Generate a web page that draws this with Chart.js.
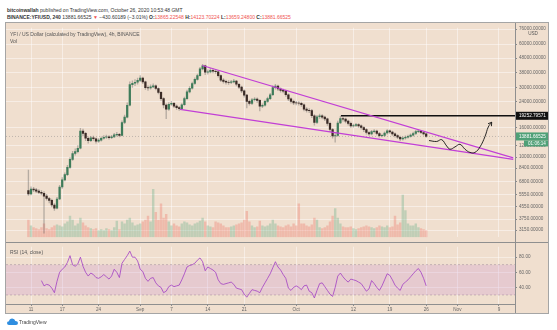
<!DOCTYPE html>
<html>
<head>
<meta charset="utf-8">
<script src="https://cdn.jsdelivr.net/npm/chart.js@4.4.0/dist/chart.umd.min.js"></script>
<style>
  html, body { margin: 0; padding: 0; background: #fff; width: 557px; height: 330px; overflow: hidden;
               font-family: "Liberation Sans", Arial, sans-serif; }
  canvas { position: absolute; background: #f0dfcf; }
  #main { left: 6px; top: 23px; }
  #rsi  { left: 6px; top: 242px; }
  .txt { position: absolute; white-space: nowrap; font-size: 5px; color: #333; line-height: 6px; }
  .r { color: #ef5350; }
  .line { position: absolute; background: #8f8f8f; }
  #frame { position: absolute; left: 5px; top: 22px; width: 544px; height: 292px; box-sizing: border-box;
           border: 1px solid #a5a5a5; }
</style>
</head>
<body>
<div class="txt" style="left:7px;top:7px"><b>bitcoinwallah</b> published on TradingView.com, October 26, 2020 10:53:48 GMT</div>
<div class="txt" style="left:7px;top:14px"><b>BINANCE:YFIUSD, 240</b> 13881.66525 <span class="r">▼</span> −430.60189 (−3.01%) <b>O:</b><span class="r">13865.22548</span> <b>H:</b><span class="r">14123.70224</span> <b>L:</b><span class="r">13659.24800</span> <b>C:</b><span class="r">13881.66525</span></div>

<canvas id="main" width="542" height="219"></canvas>
<canvas id="rsi" width="542" height="71"></canvas>

<div id="frame"></div>
<div class="line" style="left:6px;top:242px;width:542px;height:1px"></div>
<div class="line" style="left:515px;top:23px;width:1px;height:290px"></div>

<svg style="position:absolute;left:7px;top:318px" width="11" height="7" viewBox="0 0 11 7">
  <path d="M2 7 Q0 7 0 5 Q0 3.2 2 3.2 Q2.5 0.5 5.2 0.5 Q7.8 0.5 8.3 3 Q11 3 11 5 Q11 7 9 7 Z" fill="#2e8ee0"/>
</svg>
<div class="txt" style="left:19px;top:319px;color:#444">TradingView</div>

<script>
'use strict';

/* ── Time axis: 12h candles, first one Aug 10 12:00 (days counted from Aug 11) ── */
const firstDay = -0.5;
const stepDays = 0.5;
const xMin = -4.81, xMax = 93.08;

const tickDays   = [0, 6, 13, 21, 27, 34, 41, 51, 62, 69, 76, 82, 90];
const tickLabels = ['11', '17', '24', 'Sep', '7', '14', '21', 'Oct', '12', '19', '26', 'Nov', '9'];

/* ── Price (USD) ── */
const firstOpen = 5900;
const closes = [
  5590, 6030, 5955, 5835, 5730, 5645, 5395, 5195, 5040, 4685,
  4450, 5155, 6230, 6980, 7585, 8500, 9665, 10590, 10920, 11515,
  15110, 14560, 13495, 12990, 13595, 13390, 12900, 13090, 13495, 13700,
  13800, 13595, 13800, 14230, 14340, 14120, 17315, 18830, 22760, 31510,
  32240, 32730, 33735, 35045, 32980, 30110, 29885, 30475, 30985, 29660,
  27930, 25300, 22830, 21420, 23110, 23460, 22420, 21915, 21590, 22940,
  25300, 28140, 29795, 32095, 34255, 36395, 40470, 42540, 38380, 38600,
  39555, 39000, 38670, 36395, 33875, 33230, 32730, 32600, 32980, 33330,
  31750, 30340, 28570, 26680, 24180, 23460, 24810, 25070, 24550, 22420,
  22760, 24180, 25300, 26880, 30110, 30800, 29430, 28790, 28445, 26880,
  25185, 24180, 23640, 23570, 23500, 22940, 21420, 21000, 20900, 19260,
  17315, 18970, 19260, 18830, 18315, 17060, 15500, 14015, 14100, 17185,
  18400, 18260, 17715, 17060, 16425, 16500, 16725, 16425, 15985, 15455,
  14770, 14450, 14995, 15110, 14555, 14080, 14120, 14665, 15180, 14885,
  14450, 14060, 13700, 13330, 13540, 13700, 13910, 14170, 14555, 14995,
  15110, 14770, 14450, 13881.67
];
const highs = [
  8160, 6250, 6200, 6100, 5980, 5900, 5800, 5550, 5300, 5150,
  4800, 5300, 6400, 7250, 7800, 8800, 9950, 10950, 11400, 12000,
  15800, 15600, 14800, 13800, 13900, 13950, 13600, 13400, 13800, 14050,
  14200, 14100, 14150, 14600, 14800, 14600, 17800, 19500, 23600, 33000,
  33500, 34200, 35000, 36400, 35500, 33300, 31000, 31400, 32000, 31500,
  30000, 28300, 25700, 23300, 23700, 24200, 23800, 22900, 22400, 23400,
  25900, 28900, 30600, 32900, 35100, 37300, 41500, 43500, 43000, 39800,
  40800, 40500, 39900, 39200, 36900, 34700, 33900, 33600, 33800, 34300,
  33800, 32200, 30800, 29000, 27100, 24700, 25400, 25700, 25600, 24900,
  23300, 24700, 25900, 27500, 30900, 31700, 31300, 30000, 29400, 28900,
  27300, 25600, 24700, 24200, 24100, 23900, 23300, 21900, 21600, 21300,
  19600, 19400, 19800, 19600, 19200, 18600, 17400, 15800, 14500, 17700,
  19100, 18900, 18600, 18000, 17400, 16900, 17100, 17000, 16700, 16200,
  15700, 15000, 15300, 15500, 15350, 14800, 14400, 14950, 15500, 15400,
  15100, 14700, 14300, 13950, 13800, 14000, 14200, 14450, 14850, 15300,
  15450, 15300, 14900, 14500
];
const lows = [
  5450, 5500, 5800, 5700, 5600, 5500, 3000, 5050, 4850, 4550,
  4300, 4400, 5100, 6100, 6850, 7450, 8350, 9500, 10300, 10700,
  11400, 14000, 13000, 12500, 12800, 13050, 12500, 12650, 12900, 13300,
  13450, 13300, 13400, 13650, 13950, 13800, 14000, 17000, 18600, 22500,
  30200, 31000, 31800, 33000, 32000, 29200, 28800, 29300, 30000, 29000,
  27200, 24600, 21800, 18400, 21000, 22700, 21900, 21300, 21000, 21300,
  22700, 25000, 27700, 29400, 31700, 33800, 36000, 39800, 37000, 37200,
  38000, 38000, 37600, 35500, 33000, 32300, 31800, 31700, 32000, 32400,
  30900, 29600, 27800, 25900, 21800, 22800, 23000, 24300, 23800, 20800,
  21900, 22400, 23800, 24900, 26500, 29400, 28700, 28000, 27700, 26200,
  24500, 23500, 23000, 22900, 22800, 22300, 20800, 20400, 20200, 18700,
  16600, 17000, 18500, 18300, 17800, 16500, 15000, 13500, 12700, 13900,
  17000, 17700, 17200, 16600, 16000, 16050, 16200, 16000, 15600, 15000,
  14400, 14100, 14200, 14700, 14200, 13750, 13800, 13900, 14400, 14550,
  14100, 13750, 13400, 13000, 13100, 13300, 13500, 13700, 13950, 14300,
  14750, 14500, 14150, 13660
];
const volumes = [
  2160, 1440, 1200, 1080, 960, 1200, 1680, 1080, 960, 1200,
  1440, 1560, 1440, 1320, 1680, 1920, 2640, 2160, 1440, 1680,
  2400, 1800, 1440, 1200, 1080, 960, 1080, 840, 960, 840,
  1080, 960, 840, 1200, 2040, 960, 1920, 1680, 2160, 2400,
  1800, 1440, 1560, 1680, 1920, 2160, 2640, 1920, 6000, 3120,
  2160, 4200, 2400, 2880, 1920, 1440, 1680, 1440, 1320, 1680,
  1920, 1800, 1560, 1440, 1680, 1800, 2040, 2400, 1920, 1440,
  1320, 1200, 1920, 1800, 1680, 1440, 1200, 1200, 1320, 1440,
  1560, 1680, 1800, 2160, 3240, 1920, 1440, 1200, 1320, 2040,
  1440, 1320, 1440, 1680, 2160, 1680, 1440, 1320, 1200, 1440,
  1560, 1320, 1680, 1440, 4200, 1680, 1680, 1440, 1320, 1560,
  2400, 2160, 1200, 1080, 1200, 1440, 1920, 2640, 3600, 2400,
  1680, 1320, 1200, 1200, 1320, 1080, 960, 1080, 1200, 1320,
  1440, 1320, 1200, 1080, 1200, 1440, 1320, 1200, 1440, 1200,
  1320, 2640, 1560, 1800, 5280, 3360, 1680, 1440, 1440, 1680,
  1200, 1080, 960, 840
];
const volMax = 26280;

const priceTicks = [76000, 60000, 48000, 38000, 30000, 24000, 16000, 12000, 10000, 8400, 6800, 5550, 4550, 3750, 3150];
const priceMin = 2813, priceMax = 77625;
const lastPrice = 13881.66525;
const countdown = '01:06:14';

/* ── Drawings ── */
const upperLineDays = [32.94, 92.75], upperLinePrices = [42700, 9890];
const lowerLineDays = [28.65, 92.75], lowerLinePrices = [21340, 9660];
const resistance = 19252.79571, resistanceFrom = 59.6;
const projDays   = [76.54, 78.02, 78.98, 79.94, 80.58, 81.54, 82.5, 83.46, 84.42, 85.38, 86.35, 87.31, 87.94, 88.6];
const projPrices = [13010, 12820, 13190, 11930, 11340, 11760, 12250, 11340, 10780, 10780, 11760, 13860, 16120, 17390];

/* ── RSI (14, close), starts at candle 5 ── */
const rsiStart = 5;
const rsi = [
  49, 42, 44, 43, 39, 33, 48, 60, 64, 67,
  73, 82, 70, 68, 71, 80, 68, 60, 55, 59,
  57, 53, 52, 54, 57, 54, 51, 55, 64, 60,
  53, 72, 77, 82, 88, 80, 80, 75, 64, 61,
  52, 48, 52, 53, 46, 42, 40, 33, 35, 41,
  43, 41, 42, 43, 50, 58, 67, 69, 70, 72,
  76, 79, 74, 62, 67, 65, 63, 60, 50, 45,
  44, 45, 46, 47, 44, 39, 38, 37, 31, 27,
  32, 37, 36, 35, 33, 40, 46, 52, 58, 66,
  74, 67, 63, 57, 52, 39, 36, 40, 42, 40,
  37, 42, 43, 35, 33, 26, 36, 45, 46, 41,
  36, 31, 28, 40, 55, 59, 54, 50, 47, 51,
  50, 49, 47, 45, 40, 35, 38, 49, 45, 40,
  36, 42, 50, 58, 56, 50, 43, 39, 36, 44,
  47, 50, 54, 58, 62, 65, 60, 52, 42
];
const rsiTicks = [80, 60, 40];
const rsiBand = [70, 30];
const rsiMin = 18, rsiMax = 93.8;

/* ── Shared styling ── */
const FONT = '"Liberation Sans", Arial, sans-serif';
const GRID = 'rgba(255,255,255,0.45)';
const TEXT = '#666';
Chart.defaults.font.family = FONT;
Chart.defaults.font.size = 4.6;
Chart.defaults.color = TEXT;

const candleDays = closes.map((_, i) => firstDay + stepDays * i);
const opens = closes.map((c, i) => (i === 0 ? firstOpen : closes[i - 1]));
const isUp = closes.map((c, i) => c >= opens[i]);
const pts = (xs, ys) => xs.map((x, i) => ({ x, y: ys[i] }));

function rightAxisFit(s) { s.width = 33; }

/* ── Price panel ── */
const mainOverlay = {
  id: 'mainOverlay',
  afterDraw(chart) {
    const { ctx, chartArea: a, scales: { x, y } } = chart;
    ctx.save();

    // arrow head of the projection path
    const n = projDays.length;
    const x1 = x.getPixelForValue(projDays[n - 2]), y1 = y.getPixelForValue(projPrices[n - 2]);
    const x2 = x.getPixelForValue(projDays[n - 1]), y2 = y.getPixelForValue(projPrices[n - 1]);
    const ang = Math.atan2(y2 - y1, x2 - x1);
    ctx.strokeStyle = '#111';
    ctx.lineWidth = 0.9;
    ctx.beginPath();
    ctx.moveTo(x2 - 4 * Math.cos(ang - 0.55), y2 - 4 * Math.sin(ang - 0.55));
    ctx.lineTo(x2, y2);
    ctx.lineTo(x2 - 4 * Math.cos(ang + 0.55), y2 - 4 * Math.sin(ang + 0.55));
    ctx.stroke();

    ctx.font = '5px ' + FONT;
    ctx.textBaseline = 'middle';
    ctx.fillStyle = '#555';
    ctx.fillText('YFI / US Dollar (calculated by TradingView), 4h, BINANCE', a.left + 4, a.top + 7);
    ctx.fillText('Vol', a.left + 4, a.top + 14);

    ctx.font = '4.6px ' + FONT;
    ctx.textAlign = 'center';
    ctx.fillText('USD', a.right + 18, y.getPixelForValue(priceTicks[0]) + 5);

    // resistance label
    const ry = y.getPixelForValue(resistance);
    ctx.fillStyle = '#111';
    ctx.fillRect(a.right + 1, ry - 4, 32, 8);
    ctx.fillStyle = '#fff';
    ctx.textAlign = 'left';
    ctx.fillText(resistance.toFixed(5), a.right + 4, ry + 0.3);

    // last price + countdown
    const py = y.getPixelForValue(lastPrice);
    ctx.fillStyle = '#4fa077';
    ctx.fillRect(a.right + 1, py - 4, 32, 8);
    ctx.fillRect(a.right + 9, py + 4, 24, 6);
    ctx.fillStyle = '#fff';
    ctx.fillText(lastPrice.toFixed(5), a.right + 4, py + 0.3);
    ctx.fillText(countdown, a.right + 13, py + 7.3);
    ctx.restore();
  }
};

new Chart(document.getElementById('main'), {
  type: 'bar',
  data: {
    datasets: [
      {
        type: 'line', order: 0, yAxisID: 'y',
        data: pts(projDays, projPrices),
        borderColor: '#111', borderWidth: 0.9, tension: 0.4, pointRadius: 0
      },
      {
        type: 'line', order: 1, yAxisID: 'y',
        data: pts(upperLineDays, upperLinePrices),
        borderColor: '#c23fd6', borderWidth: 1.2, pointRadius: 0
      },
      {
        type: 'line', order: 1, yAxisID: 'y',
        data: pts(lowerLineDays, lowerLinePrices),
        borderColor: '#c23fd6', borderWidth: 1.2, pointRadius: 0
      },
      {
        type: 'line', order: 2, yAxisID: 'y',
        data: [{ x: resistanceFrom, y: resistance }, { x: xMax, y: resistance }],
        borderColor: '#111', borderWidth: 1.4, pointRadius: 0
      },
      {
        type: 'line', order: 7, yAxisID: 'y',
        data: [{ x: xMin, y: lastPrice }, { x: xMax, y: lastPrice }],
        borderColor: 'rgba(120,120,120,0.6)', borderWidth: 0.7, borderDash: [1, 2], pointRadius: 0
      },
      {
        order: 8, yAxisID: 'y', grouped: false,
        data: candleDays.map((d, i) => ({ x: d, y: [opens[i], closes[i]] })),
        backgroundColor: isUp.map(u => (u ? '#3f7c5a' : '#3b2b26')),
        barThickness: 1.6
      },
      {
        order: 9, yAxisID: 'y', grouped: false,
        data: candleDays.map((d, i) => ({ x: d, y: [lows[i], highs[i]] })),
        backgroundColor: 'rgba(95,95,95,0.4)',
        barThickness: 0.7
      },
      {
        order: 10, yAxisID: 'yv', grouped: false,
        data: candleDays.map((d, i) => ({ x: d, y: volumes[i] })),
        backgroundColor: isUp.map(u => (u ? 'rgba(90,170,130,0.32)' : 'rgba(235,110,95,0.32)')),
        barThickness: 1.8
      }
    ]
  },
  options: {
    responsive: false, animation: false, devicePixelRatio: 1, events: [],
    layout: { padding: 0 },
    plugins: { legend: { display: false }, tooltip: { enabled: false } },
    scales: {
      x: {
        type: 'linear', min: xMin, max: xMax, offset: false,
        grid: { color: GRID, drawTicks: false, offset: false },
        border: { display: false },
        ticks: { display: false },
        afterBuildTicks: s => { s.ticks = tickDays.map(v => ({ value: v })); },
        afterFit: s => { s.height = 0; }
      },
      y: {
        type: 'logarithmic', position: 'right', min: priceMin, max: priceMax,
        grid: { color: GRID, tickLength: 2, tickColor: '#8a8a8a' },
        border: { display: false },
        ticks: { autoSkip: false, padding: 2, color: TEXT, callback: v => Number(v).toFixed(5) },
        afterBuildTicks: s => { s.ticks = priceTicks.map(v => ({ value: v })); },
        afterFit: rightAxisFit
      },
      yv: {
        type: 'linear', display: false, min: 0, max: volMax
      }
    }
  },
  plugins: [mainOverlay]
});

/* ── RSI panel ── */
const rsiOverlay = {
  id: 'rsiOverlay',
  afterDraw(chart) {
    const { ctx, chartArea: a } = chart;
    ctx.save();
    ctx.font = '5px ' + FONT;
    ctx.fillStyle = '#555';
    ctx.textBaseline = 'middle';
    ctx.fillText('RSI (14, close)', a.left + 4, a.top + 5.5);
    ctx.restore();
  }
};

new Chart(document.getElementById('rsi'), {
  type: 'line',
  data: {
    datasets: [
      {
        data: rsi.map((v, i) => ({ x: candleDays[i + rsiStart], y: v })),
        borderColor: '#a23fc4', borderWidth: 0.8, pointRadius: 0, tension: 0
      },
      {
        data: [{ x: xMin, y: rsiBand[0] }, { x: xMax, y: rsiBand[0] }],
        borderColor: 'rgba(130,110,130,0.55)', borderWidth: 0.7, borderDash: [2, 2], pointRadius: 0,
        fill: '+1', backgroundColor: 'rgba(190,120,205,0.2)'
      },
      {
        data: [{ x: xMin, y: rsiBand[1] }, { x: xMax, y: rsiBand[1] }],
        borderColor: 'rgba(130,110,130,0.55)', borderWidth: 0.7, borderDash: [2, 2], pointRadius: 0,
        fill: false
      }
    ]
  },
  options: {
    responsive: false, animation: false, devicePixelRatio: 1, events: [],
    layout: { padding: 0 },
    plugins: { legend: { display: false }, tooltip: { enabled: false } },
    scales: {
      x: {
        type: 'linear', min: xMin, max: xMax,
        grid: { color: GRID, tickLength: 2, tickColor: '#8a8a8a' },
        border: { display: true, color: '#8f8f8f' },
        ticks: { autoSkip: false, maxRotation: 0, padding: 1, color: TEXT,
                 callback: (v, i) => tickLabels[i] },
        afterBuildTicks: s => { s.ticks = tickDays.map(v => ({ value: v })); },
        afterFit: s => { s.height = 9; }
      },
      y: {
        position: 'right', min: rsiMin, max: rsiMax,
        grid: { color: 'rgba(255,255,255,0.4)', tickLength: 2, tickColor: '#8a8a8a' },
        border: { display: false },
        ticks: { autoSkip: false, padding: 2, color: TEXT, callback: v => Number(v).toFixed(2) },
        afterBuildTicks: s => { s.ticks = rsiTicks.map(v => ({ value: v })); },
        afterFit: rightAxisFit
      }
    }
  },
  plugins: [rsiOverlay]
});
</script>
</body>
</html>
